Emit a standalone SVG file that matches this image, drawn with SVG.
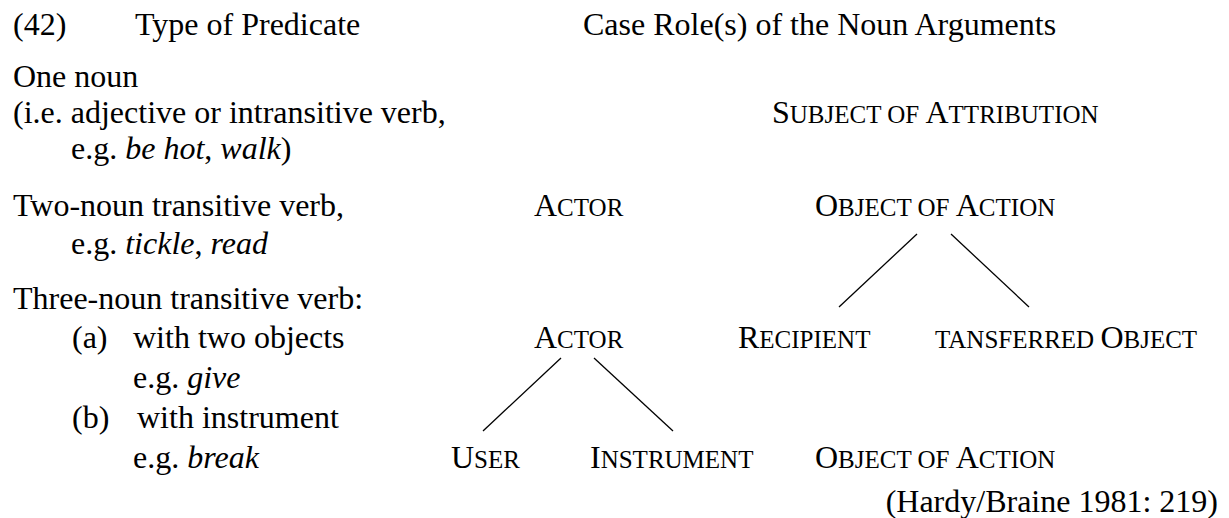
<svg xmlns="http://www.w3.org/2000/svg" width="1229" height="518" viewBox="0 0 1229 518">
<style>
text{font-family:"Liberation Serif","Times New Roman",serif;font-size:32px;fill:#000}
.sc{font-size:25px}
.it{font-style:italic}
.edge{stroke:#000;stroke-width:1.3;fill:none}
</style>
<rect width="1229" height="518" fill="#fff"/>
<g id="header">
<text x="13" y="35">(42)</text>
<text x="135" y="35">Type of Predicate</text>
<text x="583" y="35">Case Role(s) of the Noun Arguments</text>
</g>
<g id="labels">
<text x="13" y="87">One noun</text>
<text x="13" y="123">(i.e. adjective or intransitive verb,</text>
<text x="71" y="159">e.g. <tspan class="it">be hot</tspan>, <tspan class="it">walk</tspan>)</text>
<text x="13" y="216">Two-noun transitive verb,</text>
<text x="71" y="254">e.g. <tspan class="it">tickle</tspan>, <tspan class="it">read</tspan></text>
<text x="13" y="309">Three-noun transitive verb:</text>
<text x="72" y="348">(a)</text>
<text x="133" y="348">with two objects</text>
<text x="133" y="388">e.g. <tspan class="it">give</tspan></text>
<text x="72" y="428">(b)</text>
<text x="137" y="428">with instrument</text>
<text x="133" y="468">e.g. <tspan class="it">break</tspan></text>
</g>
<g id="subject-of-attribution"><text x="772" y="123">S<tspan class="sc">UBJECT OF </tspan>A<tspan class="sc">TTRIBUTION</tspan></text></g>
<g id="actor-1"><text x="534" y="216">A<tspan class="sc">CTOR</tspan></text></g>
<g id="object-of-action-1"><text x="815" y="216">O<tspan class="sc">BJECT OF </tspan>A<tspan class="sc">CTION</tspan></text></g>
<g id="actor-2"><text x="534" y="348">A<tspan class="sc">CTOR</tspan></text></g>
<g id="recipient"><text x="738" y="348">R<tspan class="sc">ECIPIENT</tspan></text></g>
<g id="transferred-object"><text x="935" y="348"><tspan class="sc">TANSFERRED </tspan>O<tspan class="sc">BJECT</tspan></text></g>
<g id="user"><text x="451" y="468">U<tspan class="sc">SER</tspan></text></g>
<g id="instrument"><text x="590" y="468">I<tspan class="sc">NSTRUMENT</tspan></text></g>
<g id="object-of-action-2"><text x="815" y="468">O<tspan class="sc">BJECT OF </tspan>A<tspan class="sc">CTION</tspan></text></g>
<g id="source"><text x="1218" y="512" text-anchor="end">(Hardy/Braine 1981: 219)</text></g>
<g id="connectors">
<line class="edge" x1="917" y1="234" x2="839" y2="307"/>
<line class="edge" x1="951" y1="234" x2="1029" y2="307"/>
<line class="edge" x1="561" y1="358" x2="483" y2="431"/>
<line class="edge" x1="594" y1="358" x2="673" y2="431"/>
</g>
</svg>
